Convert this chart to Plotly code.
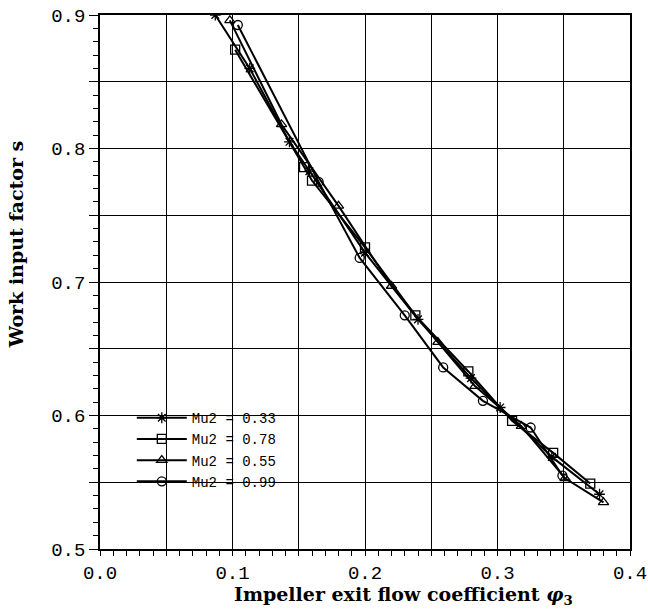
import plotly.graph_objects as go

# ---- data ----
phi_033 = [0.087, 0.113, 0.143, 0.158, 0.200, 0.240, 0.280, 0.302, 0.341, 0.377]
s_033 = [0.900, 0.860, 0.805, 0.783, 0.722, 0.672, 0.628, 0.606, 0.569, 0.541]

phi_078 = [0.102, 0.154, 0.160, 0.200, 0.238, 0.278, 0.311, 0.342, 0.370]
s_078 = [0.874, 0.786, 0.776, 0.726, 0.675, 0.633, 0.596, 0.572, 0.549]

phi_055 = [0.098, 0.137, 0.180, 0.220, 0.255, 0.283, 0.318, 0.351, 0.380]
s_055 = [0.896, 0.818, 0.757, 0.697, 0.655, 0.622, 0.592, 0.553, 0.535]

phi_099 = [0.104, 0.165, 0.196, 0.230, 0.259, 0.289, 0.325, 0.349]
s_099 = [0.8925, 0.775, 0.718, 0.675, 0.636, 0.611, 0.591, 0.555]

series_names = ["Mu2 = 0.33", "Mu2 = 0.78", "Mu2 = 0.55", "Mu2 = 0.99"]
series_symbols = ["asterisk-open", "square-open", "triangle-up-open", "circle-open"]

x_tickvals = [0.0, 0.05, 0.1, 0.15, 0.2, 0.25, 0.3, 0.35, 0.4]
x_ticktext = ["0.0", "", "0.1", "", "0.2", "", "0.3", "", "0.4"]
y_tickvals = [0.5, 0.55, 0.6, 0.65, 0.7, 0.75, 0.8, 0.85, 0.9]
y_ticktext = ["0.5", "", "0.6", "", "0.7", "", "0.8", "", "0.9"]

x_title = "Impeller exit flow coefficient <i>φ</i><sub>3</sub>"
y_title = "Work input factor s"

fig = go.Figure()
for xs, ys, name, sym in zip([phi_033, phi_078, phi_055, phi_099],
                             [s_033, s_078, s_055, s_099],
                             series_names, series_symbols):
    fig.add_trace(go.Scatter(
        x=xs, y=ys, name=name, mode="lines+markers",
        line=dict(color="black", width=2),
        marker=dict(symbol=sym, size=9, color="black",
                    line=dict(color="black", width=1.3)),
    ))

axis_common = dict(
    showline=True, linecolor="black", linewidth=1.5, mirror=True,
    showgrid=True, gridcolor="black", gridwidth=1.3,
    ticks="outside", tickwidth=1.3, tickcolor="black",
    zeroline=False, automargin=False, ticklabeloverflow="allow",
    tickfont=dict(family="Liberation Mono", size=19, color="black"),
)

fig.update_xaxes(
    range=[0.0, 0.4], tickmode="array", tickvals=x_tickvals, ticktext=x_ticktext,
    ticklen=5,
    minor=dict(dtick=0.01, ticks="outside", ticklen=5, tickwidth=1.3,
               tickcolor="black", showgrid=False),
    **axis_common,
)
fig.update_yaxes(
    range=[0.5, 0.9], tickmode="array", tickvals=y_tickvals, ticktext=y_ticktext,
    ticklen=9,
    minor=dict(dtick=0.01, ticks="outside", ticklen=5, tickwidth=1.3,
               tickcolor="black", showgrid=False),
    **axis_common,
)

fig.update_layout(
    width=648, height=612,
    margin=dict(l=100, r=18, t=15, b=63),
    paper_bgcolor="white", plot_bgcolor="white",
    showlegend=True,
    legend=dict(
        x=0.06, y=0.275, xanchor="left", yanchor="top",
        bgcolor="rgba(0,0,0,0)", borderwidth=0,
        font=dict(family="Liberation Mono", size=14, color="black"),
        tracegroupgap=0, itemwidth=50,
    ),
    annotations=[
        dict(text="<b>" + x_title + "</b>", xref="paper", yref="paper",
             x=0.573, y=-0.088, xanchor="center", yanchor="middle",
             showarrow=False,
             font=dict(family="DejaVu Serif", size=19, color="black")),
        dict(text="<b>" + y_title + "</b>", xref="paper", yref="paper",
             x=-0.159, y=0.57, xanchor="center", yanchor="middle",
             textangle=-90, showarrow=False,
             font=dict(family="DejaVu Serif", size=19, color="black")),
    ],
)

fig.write_html("out.html")
